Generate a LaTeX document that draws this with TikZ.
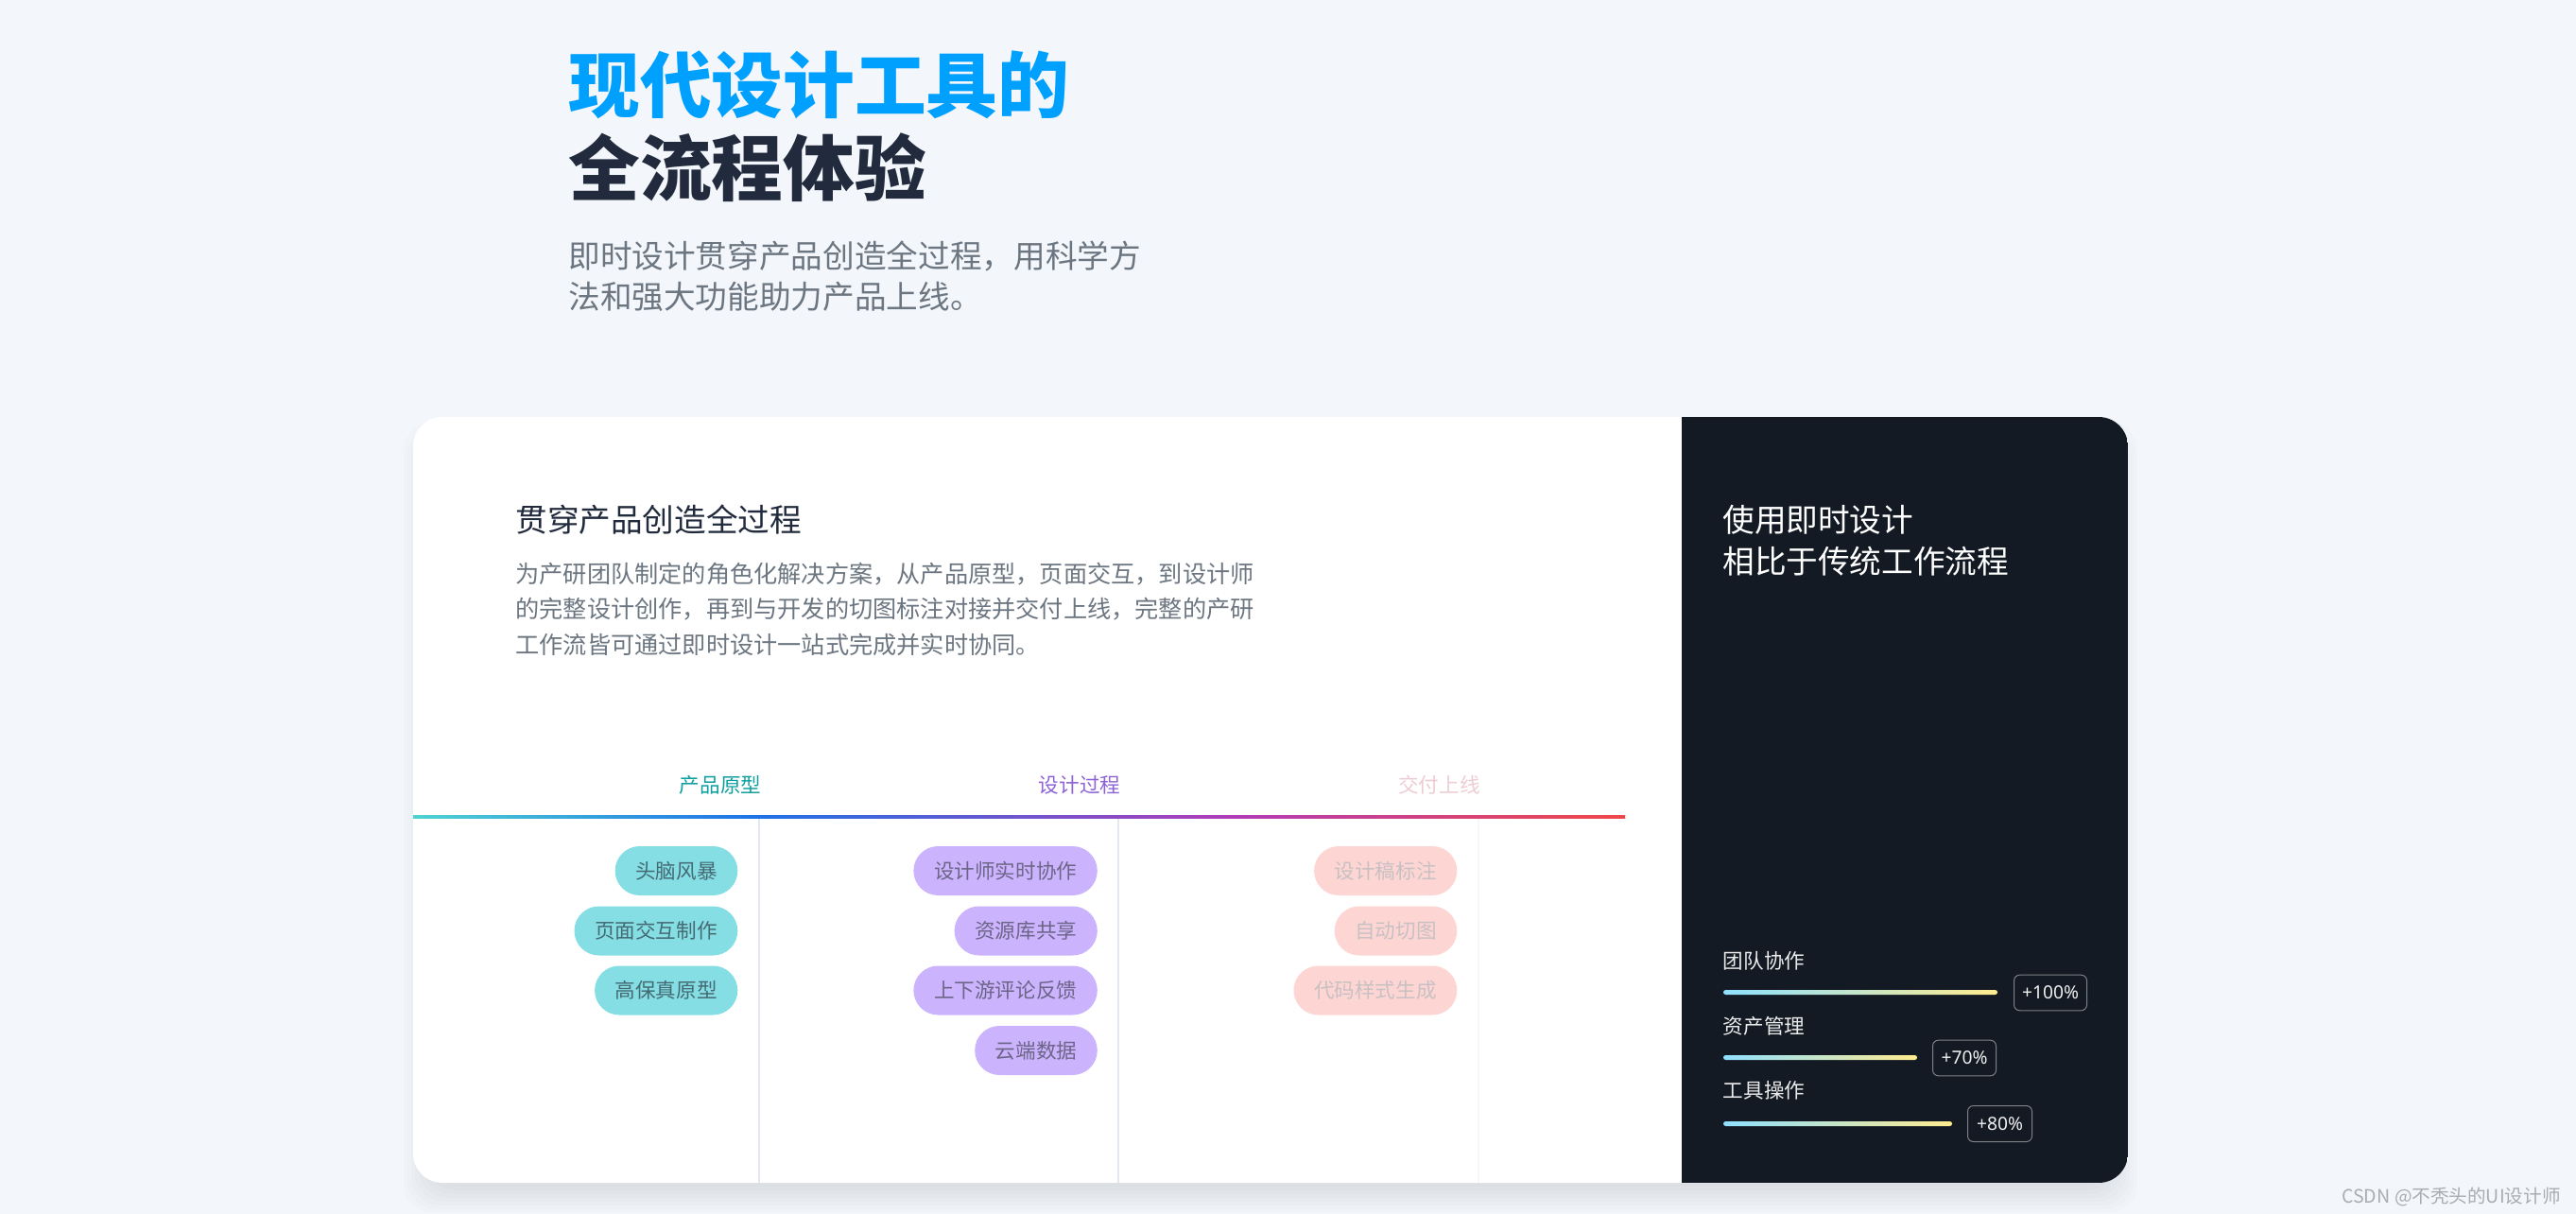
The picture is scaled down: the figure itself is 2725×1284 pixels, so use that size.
\documentclass[tikz,border=0pt]{standalone}
\usepackage{fontspec}
\setmainfont{Noto Sans CJK SC}
\newfontfamily\latinfont{Noto Sans}
\definecolor{pagebg}{HTML}{F3F6FB}
\definecolor{panelbg}{HTML}{131A23}
\definecolor{titleblue}{HTML}{00A0FF}
\definecolor{titledark}{HTML}{212B3D}
\definecolor{bodygrey}{HTML}{6C7681}
\definecolor{tealtext}{HTML}{109F9F}
\definecolor{purpletext}{HTML}{8E63D6}
\definecolor{pinktext}{HTML}{EDCDD3}
\definecolor{tealpill}{HTML}{84DEE3}
\definecolor{purplepill}{HTML}{CBB4FD}
\definecolor{pinkpill}{HTML}{FDD6D4}
\definecolor{tealink}{HTML}{466A73}
\definecolor{purpleink}{HTML}{6C6588}
\definecolor{pinkink}{HTML}{C9C0C3}
\definecolor{ruleteal}{HTML}{4FD2D2}
\definecolor{ruleblue}{HTML}{1E72E6}
\definecolor{rulepurple}{HTML}{B03CB8}
\definecolor{rulered}{HTML}{F04848}
\definecolor{dividerline}{HTML}{E3E7EE}
\definecolor{dividerpale}{HTML}{F6F7FB}
\definecolor{barblue}{HTML}{8FE0FF}
\definecolor{baryellow}{HTML}{FFEB8F}
\definecolor{wmgrey}{HTML}{A9ACB1}
\tikzset{
	txt/.style={inner sep=0pt, anchor=west, align=left},
	pill/.style={rounded corners=13pt, minimum height=26pt, inner xsep=10.8pt, inner ysep=0pt, anchor=east, font=\fontsize{10.8}{13}\selectfont},
	tealnode/.style={pill, fill=tealpill, text=tealink},
	purplenode/.style={pill, fill=purplepill, text=purpleink},
	pinknode/.style={pill, fill=pinkpill, text=pinkink},
	stage/.style={inner sep=0pt, font=\fontsize{10.8}{13}\selectfont},
	divider/.style={line width=.75pt},
	bar/.style={left color=barblue, right color=baryellow, rounded corners=1.25pt},
	barlabel/.style={txt, text=white!92!black, font=\fontsize{10.8}{13}\selectfont},
	badge/.style={draw=white!45!panelbg, line width=.5pt, rounded corners=3pt, inner sep=0pt, text=white!94!black, font=\latinfont\fontsize{9.6}{12}\selectfont}
}
\begin{document}
\begin{tikzpicture}[x=.5pt, y=-.5pt]
	\useasboundingbox (0,0) rectangle (2725,1284);
	\fill [pagebg] (0,0) rectangle (2725,1284);
	% soft shadow of the card
	\foreach \e in {-20,-16,...,24}
		\fill [black, opacity=.012, rounded corners=15.5pt] (451-\e,470-\e) rectangle (2237+\e,1259+\e);
	% card
	\fill [white, rounded corners=15.5pt] (437,441) rectangle (2251,1251);
	\begin{scope}
		\clip [rounded corners=15.5pt] (437,441) rectangle (2251,1251);
		\fill [panelbg] (1779,441) rectangle (2251,1251);
	\end{scope}

	% heading
	\node (title) [txt, text=titleblue, font=\fontsize{37.85}{44}\selectfont\bfseries] at (601,90) {现代设计工具的};
	\node (titletwo) [txt, text=titledark, font=\fontsize{37.85}{44}\selectfont\bfseries] at (601,177) {全流程体验};
	\node (subone) [txt, text=bodygrey, font=\fontsize{16.82}{20}\selectfont] at (601,271) {即时设计贯穿产品创造全过程，用科学方};
	\node (subtwo) [txt, text=bodygrey, font=\fontsize{16.82}{20}\selectfont] at (601,314) {法和强大功能助力产品上线。};

	% card text
	\node (cardhead) [txt, text=titledark, font=\fontsize{16.82}{20}\selectfont] at (545,550) {贯穿产品创造全过程};
	\node (cardone) [txt, text=bodygrey, font=\fontsize{12.6}{15}\selectfont] at (545,607) {为产研团队制定的角色化解决方案，从产品原型，页面交互，到设计师};
	\node (cardtwo) [txt, text=bodygrey, font=\fontsize{12.6}{15}\selectfont] at (545,644) {的完整设计创作，再到与开发的切图标注对接并交付上线，完整的产研};
	\node (cardthree) [txt, text=bodygrey, font=\fontsize{12.6}{15}\selectfont] at (545,682) {工作流皆可通过即时设计一站式完成并实时协同。};

	% stages
	\node (proto) [stage, text=tealtext] at (762,830) {产品原型};
	\node (design) [stage, text=purpletext] at (1142,830) {设计过程};
	\node (deliver) [stage, text=pinktext] at (1522.5,830) {交付上线};
	\draw [divider, color=dividerline] (803,864) -- (803,1251);
	\draw [divider, color=dividerline] (1183,864) -- (1183,1251);
	\draw [divider, color=dividerpale] (1564,864) -- (1564,1251);
	\shade [left color=ruleteal, right color=ruleblue] (437,862) rectangle (800,865);
	\shade [left color=ruleblue, right color=rulepurple] (800,862) rectangle (1300,865);
	\shade [left color=rulepurple, right color=rulered] (1300,862) rectangle (1719,865);

	% pills
	\node (brain) [tealnode] at (780.7,921) {头脑风暴};
	\node (page) [tealnode] at (780.7,984.5) {页面交互制作};
	\node (hifi) [tealnode] at (780.7,1047.5) {高保真原型};
	\node (realtime) [purplenode] at (1161.2,921) {设计师实时协作};
	\node (assets) [purplenode] at (1161.2,984.5) {资源库共享};
	\node (review) [purplenode] at (1161.2,1047.5) {上下游评论反馈};
	\node (cloud) [purplenode] at (1161.2,1111) {云端数据};
	\node (mark) [pinknode] at (1541.7,921) {设计稿标注};
	\node (slice) [pinknode] at (1541.7,984.5) {自动切图};
	\node (code) [pinknode] at (1541.7,1047.5) {代码样式生成};

	% dark panel
	\node (panelone) [txt, text=white, font=\fontsize{16.82}{20}\selectfont] at (1822,550) {使用即时设计};
	\node (paneltwo) [txt, text=white, font=\fontsize{16.82}{20}\selectfont] at (1822,594) {相比于传统工作流程};
	\node (team) [barlabel] at (1822.5,1016) {团队协作};
	\shade [bar] (1823,1047) rectangle (2113,1052);
	\node (teamval) [badge, minimum width=38.5pt, minimum height=18.8pt] at (2169,1050) {+100\%};
	\node (asset) [barlabel] at (1822.5,1085) {资产管理};
	\shade [bar] (1823,1116) rectangle (2028,1121);
	\node (assetval) [badge, minimum width=33.5pt, minimum height=18.8pt] at (2078,1119) {+70\%};
	\node (tool) [barlabel] at (1822.5,1153.5) {工具操作};
	\shade [bar] (1823,1186) rectangle (2065,1191);
	\node (toolval) [badge, minimum width=34pt, minimum height=19pt] at (2115.5,1188.5) {+80\%};

	% watermark
	\node (wm) [inner sep=0pt, anchor=east, text=wmgrey, font=\fontsize{9.8}{12}\selectfont] at (2709,1266) {CSDN @不秃头的UI设计师};
\end{tikzpicture}
\end{document}
